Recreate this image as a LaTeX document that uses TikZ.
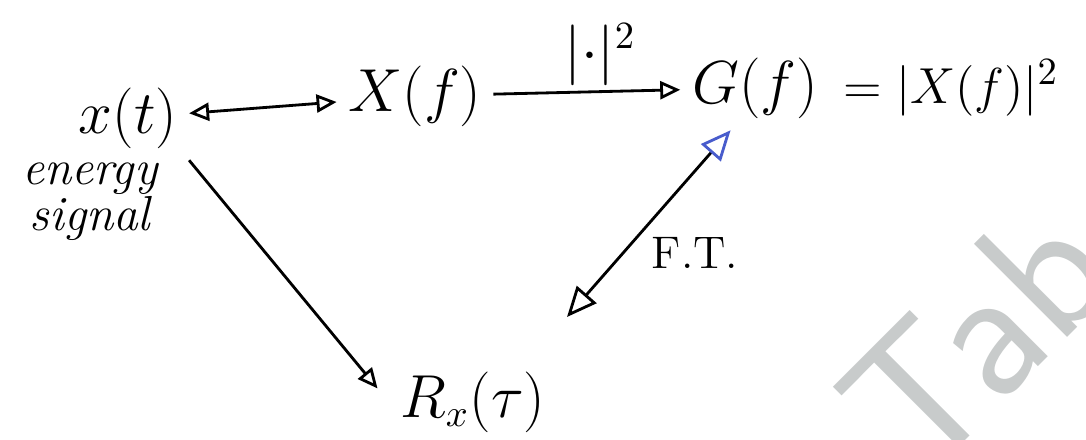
\documentclass[tikz,border=0pt]{standalone}
\usepackage{amsmath}
\usetikzlibrary{positioning,arrows.meta}
\definecolor{penblue}{RGB}{72,92,204}
\definecolor{wmgray}{RGB}{200,203,203}
\tikzset{
  bigmath/.style={font=\fontsize{16}{19}\selectfont,inner sep=3pt},
  handnote/.style={font=\itshape\fontsize{14}{13}\selectfont,align=center,inner sep=1pt},
  bigtip/.tip={Triangle[open,length=3mm,width=2.6mm]},
}

\begin{document}
\begin{tikzpicture}[>={Triangle[open,length=2mm,width=1.8mm]},line width=0.8pt]
  \useasboundingbox (0,0) rectangle (10.86,-4.40);
  \clip (0,0) rectangle (10.86,-4.40);
  % watermark
  \node[font=\sffamily\fontsize{54}{54}\selectfont,text=wmgray,rotate=45,anchor=base west,inner sep=0] (wm) at (9.20,-4.85) {Tab};
  % top row
  \node[bigmath] (xt) at (1.28,-1.18) {$x(t)$};
  \node[bigmath] (Xf) at (4.15,-0.96) {$X(f)$};
  \node[bigmath] (Gf) at (7.55,-0.88) {$G(f)$};
  \node[bigmath,font=\fontsize{15}{18}\selectfont,anchor=west,inner sep=0] (Gx) at (8.42,-0.88) {$=|X(f)|^2$};
  \node[bigmath] (sq) at (6.00,-0.55) {$|{\cdot}|^2$};
  \draw[<->] (xt) -- (Xf);
  \draw[->] (Xf) -- (Gf);
  % left side
  \node[handnote] (es) at (0.90,-2.02) {energy\\signal};
  \node[bigmath] (Rx) at (4.73,-4.02) {$R_x(\tau)$};
  \draw[->,shorten >=5pt] (xt.south east) -- (Rx.west);
  % transform pair
  \coordinate (ftend) at (5.67,-3.17);
  \draw[{bigtip}-{bigtip[color=penblue]}] (ftend) -- (Gf.240);
  \node[font=\fontsize{13}{13}\selectfont] (ft) at (6.95,-2.53) {F.T.};
\end{tikzpicture}
\end{document}
